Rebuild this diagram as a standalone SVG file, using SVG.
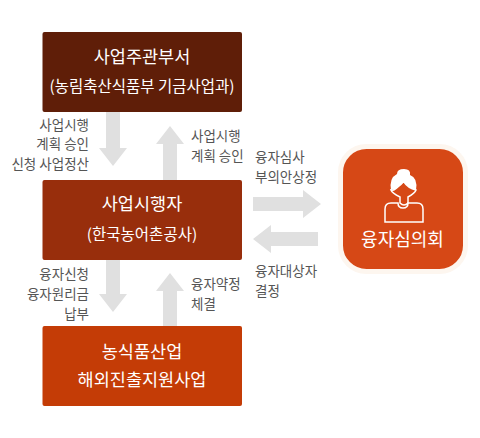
<svg xmlns="http://www.w3.org/2000/svg" width="480" height="438" viewBox="0 0 480 438">
<style>
text{font-family:"Noto Sans CJK KR","Noto Sans",sans-serif}
.a{fill:#e0e0e0}
.l{font-size:13.500px;fill:#555}
.e{text-anchor:end}
.t{font-size:17.500px;fill:#fff;text-anchor:middle}
.s{font-size:15.500px;fill:#fff;text-anchor:middle}
</style>
<rect width="480" height="438" fill="#fff"/>
<g id="connectors">
<polygon class="a" points="106,112 120,112 120,148 127,148 113,166 99,148 106,148"/>
<polygon class="a" points="163,180 177,180 177,144 184,144 170,126 156,144 163,144"/>
<polygon class="a" points="106,260 120,260 120,294 127,294 113,312 99,294 106,294"/>
<polygon class="a" points="163,326 177,326 177,291 184,291 170,273 156,291 163,291"/>
<polygon class="a" points="253,197 303,197 303,190 321,204 303,218 303,211 253,211"/>
<polygon class="a" points="318,232 271,232 271,225 253,239 271,253 271,246 318,246"/>
</g>
<g id="node-dept">
<rect x="42.500" y="32" width="199.500" height="80" rx="2" fill="#5f1e08"/>
<text class="t" x="142" y="63">사업주관부서</text>
<text class="s" x="142" y="92">(농림축산식품부 기금사업과)</text>
</g>
<g id="node-exec">
<rect x="42.500" y="180" width="199.500" height="80" rx="2" fill="#982e0c"/>
<text class="t" x="142" y="210">사업시행자</text>
<text class="s" x="142" y="240">(한국농어촌공사)</text>
</g>
<g id="node-biz">
<rect x="42.500" y="326" width="199.500" height="80" rx="2" fill="#c43c06"/>
<text class="t" x="142" y="358">농식품산업</text>
<text class="t" x="142" y="386">해외진출지원사업</text>
</g>
<g id="node-committee">
<rect x="340.500" y="146.500" width="125" height="125" rx="26" fill="#d64816" stroke="#fdf6ef" stroke-width="5"/>
<g fill="none" stroke="#fff" stroke-width="1.500">
<path d="M385 222V209Q385 203 391 203H398Q398 208 403 208Q408 208 408 203H417Q423 203 423 209V222Z"/>
<path d="M391 190Q395 191 399 185Q402 182 404 182Q408 188 416 190Q415 193 408 197L408 203Q404 207 400 203L400 197Q392 193 391 190Z"/>
</g>
<path fill="#fff" d="M391 190Q389 178 397 174Q397 169 404 169Q411 169 410 175Q418 178 416 190Q408 188 404 182Q399 189 391 190Z"/>
<text class="t" x="402.500" y="246" style="font-size:18px">융자심의회</text>
</g>
<g id="labels">
<text class="l e" x="89" y="130">사업시행</text>
<text class="l e" x="89" y="149">계획 승인</text>
<text class="l e" x="89" y="169">신청 사업정산</text>
<text class="l" x="191" y="141">사업시행</text>
<text class="l" x="191" y="161">계획 승인</text>
<text class="l" x="255" y="162">융자심사</text>
<text class="l" x="255" y="182">부의안상정</text>
<text class="l" x="255" y="276">융자대상자</text>
<text class="l" x="255" y="296">결정</text>
<text class="l e" x="89" y="279">융자신청</text>
<text class="l e" x="89" y="299">융자원리금</text>
<text class="l e" x="89" y="319">납부</text>
<text class="l" x="191" y="289">융자약정</text>
<text class="l" x="191" y="309">체결</text>
</g>
</svg>
